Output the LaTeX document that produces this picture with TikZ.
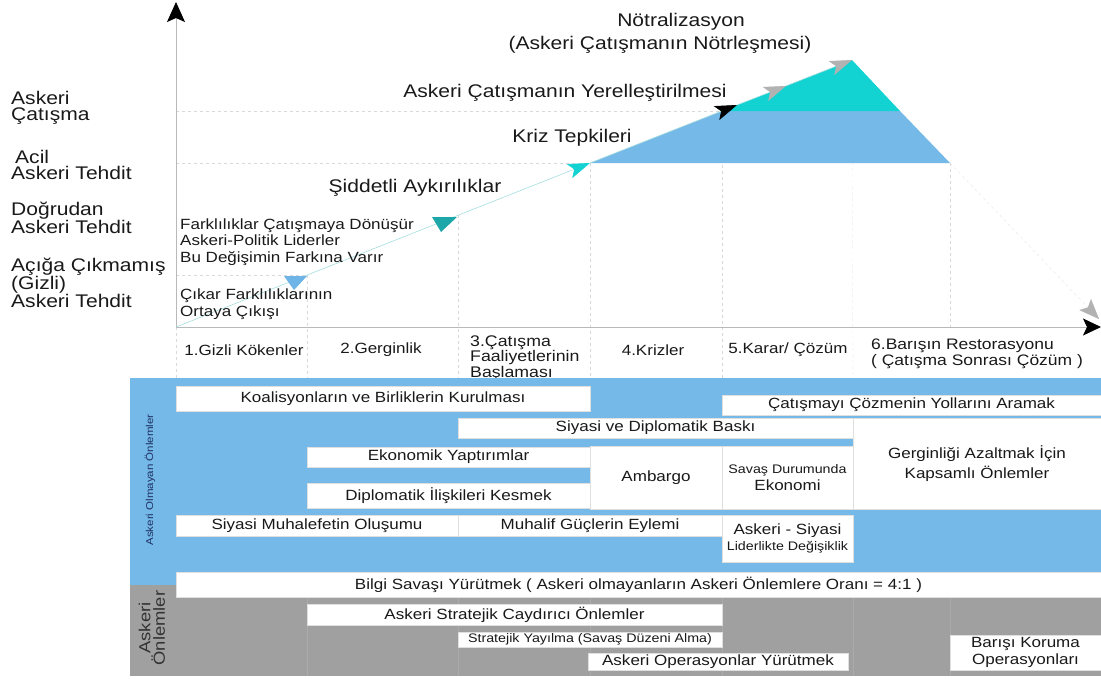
\documentclass[tikz,border=0pt]{standalone}
\usepackage{fontspec}
\setmainfont{Liberation Sans}[FakeStretch=1.15]
\usetikzlibrary{arrows.meta}

\definecolor{tblue}{RGB}{117,185,232}
\definecolor{tgray}{RGB}{160,160,160}
\definecolor{tcyan}{RGB}{18,210,210}
\definecolor{tteal}{RGB}{28,168,168}
\definecolor{tmark}{RGB}{110,180,230}
\definecolor{tline}{RGB}{165,222,222}
\definecolor{tarrow}{RGB}{178,178,178}
\definecolor{tnavy}{RGB}{30,50,100}

\newcommand\szL{\fontsize{18.3}{16.5}\selectfont}
\newcommand\szM{\fontsize{14.8}{16.5}\selectfont}
\newcommand\szS{\fontsize{12.4}{14}\selectfont}
\newcommand\szXS{\fontsize{10}{11}\selectfont}

\tikzset{
  guide/.style={gray!30, dashed, very thin},
  axisline/.style={gray!55, line width=0.8pt},
  trajline/.style={tline, line width=0.6pt},
  sep/.style={tgray!88!white, very thin},
  cell/.style={fill=white, draw=gray!25, very thin, inner sep=0pt, align=center, font=\szM, text=black!90},
  lbl/.style={inner sep=0pt, font=\szL, align=left, text=black!90},
  hdr/.style={inner sep=0pt, font=\szM, align=left, text=black!90},
}

\begin{document}
\begin{tikzpicture}[x=1pt,y=-1pt]
    \useasboundingbox (0,0) rectangle (1101,678);
    \coordinate (O) at (176,327);
    \coordinate (ytop) at (176,2);
    \coordinate (xend) at (1101,327);
    \coordinate (c1) at (590,163);
    \coordinate (c2) at (722,111);
    \coordinate (peak) at (852,60);
    \coordinate (c3) at (900,111);
    \coordinate (c4) at (950,163);
    \coordinate (ka) at (737,105);
    \coordinate (kb) at (786,86);
    \coordinate (dend) at (1099,319);

    % levels and phase guides
    \draw[guide] (176,111) -- (c2);
    \draw[guide] (176,163) -- (c1);
    \draw[guide] (176,275) -- (307,275);
    \draw[guide] (O) -- (176,378);
    \draw[guide] (307,275) -- (307,378);
    \draw[guide] (458,215) -- (458,378);
    \draw[guide] (c1) -- (590,378);
    \draw[guide] (c2) -- (722,378);
    \draw[guide] (peak) -- (853,378);
    \draw[guide] (c4) -- (950,327);

    \fill[tblue] (c1) -- (c2) -- (c3) -- (c4) -- cycle;
    \fill[tcyan] (c2) -- (peak) -- (c3) -- cycle;

    \draw[guide, -{Stealth[length=20pt,width=16pt,inset=4pt,color=tarrow]}] (c4) -- (dend);
    \draw[axisline, -{Stealth[length=20pt,width=18pt,inset=4pt,color=black]}] (O) -- (ytop);
    \draw[axisline, -{Stealth[length=18pt,width=17pt,inset=4pt,color=black]}] (O) -- (xend);

    \draw[trajline, -{Stealth[length=22pt,width=15pt,inset=5pt,color=tcyan]}] (O) -- (c1);
    \draw[trajline, -{Stealth[length=22pt,width=15pt,inset=5pt,color=black]}] (c1) -- (ka);
    \draw[trajline, -{Stealth[length=22pt,width=15pt,inset=5pt,color=tarrow]}] (ka) -- (kb);
    \draw[trajline, -{Stealth[length=22pt,width=15pt,inset=5pt,color=tarrow]}] (kb) -- (peak);
    \fill[tmark] (284,276) -- (307,276) -- (294,290) -- cycle;
    \fill[tteal] (432,217) -- (457,217) -- (441,232) -- cycle;

    \node[lbl, anchor=west] (lvA) at (11,108) {Askeri\\Çatışma};
    \node[lbl, anchor=west] (lvB) at (11,165) {\hspace*{4pt}Acil\\Askeri Tehdit};
    \node[lbl, anchor=west] (lvC) at (11,218) {Doğrudan\\Askeri Tehdit};
    \node[lbl, anchor=west, font={\fontsize{18.3}{15.5}\selectfont}] (lvD) at (11,283) {Açığa Çıkmamış\\(Gizli)\\Askeri Tehdit};

    \node[lbl] (neutA) at (681,22) {Nötralizasyon};
    \node[lbl] (neutB) at (660,45) {(Askeri Çatışmanın Nötrleşmesi)};
    \node[lbl] (local) at (565,93) {Askeri Çatışmanın Yerelleştirilmesi};
    \node[lbl] (kriz) at (572,138) {Kriz Tepkileri};
    \node[lbl] (siddet) at (415,188) {Şiddetli Aykırılıklar};
    \node[hdr, anchor=west] (fark) at (180,242) {Farklılıklar Çatışmaya Dönüşür\\Askeri-Politik Liderler\\Bu Değişimin Farkına Varır};
    \node[hdr, anchor=west] (cikar) at (180,304) {Çıkar Farklılıklarının\\Ortaya Çıkışı};

    \node[hdr] (h1) at (244,350) {1.Gizli Kökenler};
    \node[hdr] (h2) at (381,350) {2.Gerginlik};
    \node[hdr, anchor=west, font={\fontsize{15.4}{13.4}\selectfont}] (h3) at (470,358) {3.Çatışma\\Faaliyetlerinin\\Başlaması};
    \node[hdr] (h4) at (653,350) {4.Krizler};
    \node[hdr] (h5) at (788,350) {5.Karar/ Çözüm};
    \node[hdr, anchor=west, font={\fontsize{15.2}{16}\selectfont}] (h6) at (871,354) {6.Barışın Restorasyonu\\( Çatışma Sonrası Çözüm )};

    % measures table
    \fill[tblue] (130,378) rectangle (1101,597);
    \fill[tgray] (130,585) rectangle (176,676);
    \fill[tgray] (176,597) rectangle (1101,676);
    \draw[sep] (307,597) -- (307,676);
    \draw[sep] (458,597) -- (458,676);
    \draw[sep] (590,597) -- (590,676);
    \draw[sep] (722,597) -- (722,676);
    \draw[sep] (853,597) -- (853,676);
    \draw[sep] (950,597) -- (950,676);
    \node[rotate=90, inner sep=0pt, font=\szXS, text=tnavy] (nonmil) at (150,480) {Askeri Olmayan Önlemler};
    \node[rotate=90, inner sep=0pt, align=center, font={\fontsize{16}{13}\selectfont}, text=black!80] (mil) at (152,628) {Askeri\\Önlemler};

    \node[cell, minimum width=414pt, minimum height=25pt] (koal) at (383,398.5) {Koalisyonların ve Birliklerin Kurulması};
    \node[cell, minimum width=379pt, minimum height=20pt] (yol) at (911.5,405) {Çatışmayı Çözmenin Yollarını Aramak};
    \node[cell, minimum width=395pt, minimum height=20pt] (baski) at (655.5,428) {Siyasi ve Diplomatik Baskı};
    \node[cell, minimum width=248pt, minimum height=91pt, font={\fontsize{14.8}{19.5}\selectfont}] (kapsam) at (977,463.5) {Gerginliği Azaltmak İçin\\Kapsamlı Önlemler};
    \node[cell, minimum width=283pt, minimum height=20pt] (ekon) at (448.5,457) {Ekonomik Yaptırımlar};
    \node[cell, minimum width=132pt, minimum height=63pt] (ambargo) at (656,477.5) {Ambargo};
    \node[cell, minimum width=131pt, minimum height=63pt] (savas) at (787.5,477.5) {{\szS Savaş Durumunda}\\Ekonomi};
    \node[cell, minimum width=283pt, minimum height=25pt] (diplo) at (448.5,495.5) {Diplomatik İlişkileri Kesmek};
    \node[cell, minimum width=282pt, minimum height=21pt] (muhalefet) at (317,525.5) {Siyasi Muhalefetin Oluşumu};
    \node[cell, minimum width=264pt, minimum height=21pt] (muhalif) at (590,525.5) {Muhalif Güçlerin Eylemi};
    \node[cell, minimum width=131pt, minimum height=47pt] (lider) at (787.5,538.5) {Askeri - Siyasi\\{\szS Liderlikte Değişiklik}};
    \node[cell, minimum width=925pt, minimum height=25pt] (bilgi) at (638.5,584.5) {Bilgi Savaşı Yürütmek ( Askeri olmayanların Askeri Önlemlere Oranı = 4:1 )};
    \node[cell, minimum width=415pt, minimum height=21pt] (cayd) at (514.5,614.5) {Askeri Stratejik Caydırıcı Önlemler};
    \node[cell, minimum width=264pt, minimum height=15pt, font=\szS] (yayil) at (590,639.5) {Stratejik Yayılma (Savaş Düzeni Alma)};
    \node[cell, minimum width=260pt, minimum height=17pt] (oper) at (718,661.5) {Askeri Operasyonlar Yürütmek};
    \node[cell, minimum width=151pt, minimum height=35pt] (baris) at (1025.5,652.5) {Barışı Koruma\\Operasyonları};
\end{tikzpicture}
\end{document}
